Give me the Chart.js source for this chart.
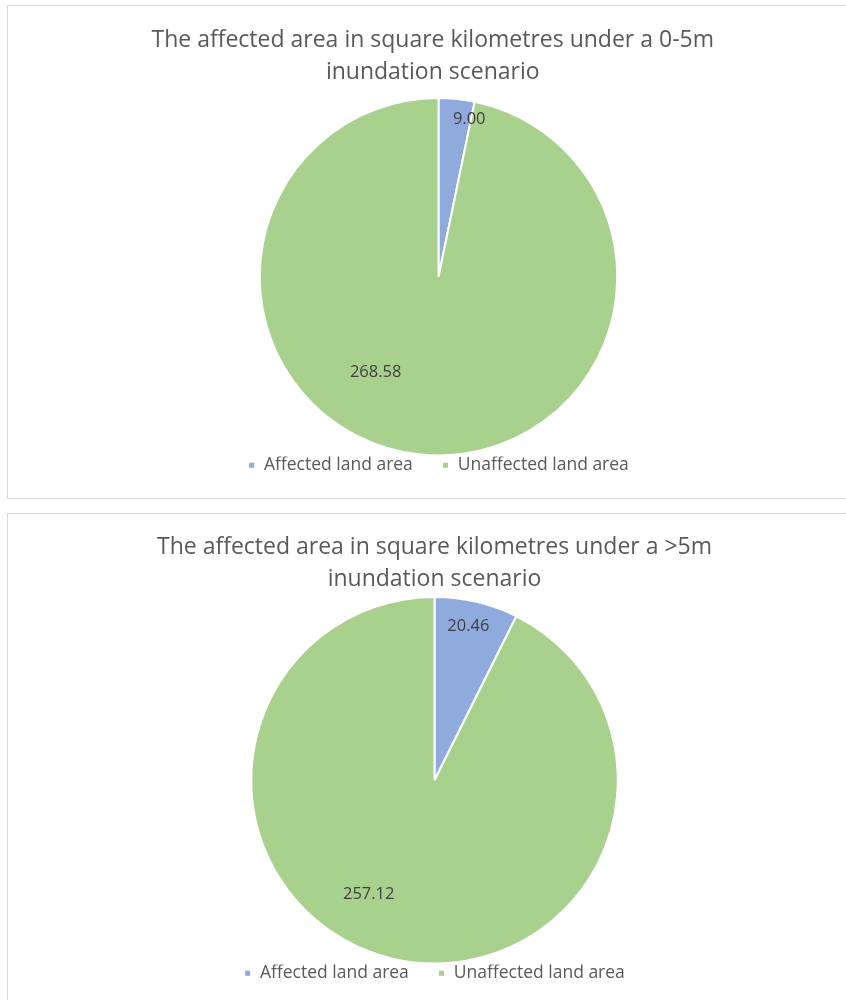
<!DOCTYPE html>
<html>
<head>
<meta charset="utf-8">
<script src="https://cdn.jsdelivr.net/npm/chart.js@4"></script>
<style>
  html, body { margin: 0; padding: 0; background: #fff; overflow: hidden; }
  .box { position: absolute; left: 7px; width: 856px; border: 1px solid #d9d9d9; background: #fff; }
  #box1 { top: 5px; height: 492px; }
  #box2 { top: 513px; height: 495px; }
</style>
</head>
<body>
<div class="box" id="box1"><canvas id="chart1" width="856" height="492"></canvas></div>
<div class="box" id="box2"><canvas id="chart2" width="856" height="495"></canvas></div>
<script>
const categories = ['Affected land area', 'Unaffected land area'];
const shallowValues = [9.00, 268.58];
const deepValues = [20.46, 257.12];
const shallowTitle = ['The affected area in square kilometres under a 0-5m', 'inundation scenario'];
const deepTitle = ['The affected area in square kilometres under a >5m', 'inundation scenario'];

const colours = ['#8faadc', '#a9d18e'];
const textGrey = '#595959';
const fontFamily = "'Open Sans', 'Liberation Sans', sans-serif";

// value labels, placed roughly where Excel's "best fit" put them
const sliceLabels = {
  id: 'sliceLabels',
  afterDatasetsDraw(chart, args, opts) {
    const ctx = chart.ctx;
    const meta = chart.getDatasetMeta(0);
    const data = chart.data.datasets[0].data;
    ctx.save();
    ctx.font = '16.5px ' + fontFamily;
    ctx.fillStyle = '#404040';
    ctx.textAlign = 'center';
    ctx.textBaseline = 'middle';
    meta.data.forEach((arc, i) => {
      const p = opts.places[i];
      const r = arc.outerRadius * p.frac;
      let a = (arc.startAngle + arc.endAngle) / 2;
      if (p.angle !== undefined) a = (p.angle - 90) * Math.PI / 180;
      ctx.fillText(data[i].toFixed(2), arc.x + Math.cos(a) * r, arc.y + Math.sin(a) * r);
    });
    ctx.restore();
  }
};

function makePie(id, title, values, pad, titlePad, places) {
  new Chart(document.getElementById(id), {
    type: 'pie',
    data: {
      labels: categories,
      datasets: [{ data: values, backgroundColor: colours, borderColor: '#fff', borderWidth: 2 }]
    },
    options: {
      responsive: false,
      animation: false,
      layout: { padding: pad },
      plugins: {
        title: {
          display: true,
          text: title,
          color: textGrey,
          font: { family: fontFamily, size: 23, weight: 'normal', lineHeight: 32 / 23 },
          padding: { top: 0, bottom: titlePad }
        },
        legend: {
          position: 'bottom',
          labels: {
            color: textGrey,
            font: { family: fontFamily, size: 17.5, lineHeight: 1.2 },
            boxWidth: 7, boxHeight: 7, padding: 0,
            generateLabels(chart) {
              const items = Chart.overrides.pie.plugins.legend.labels.generateLabels(chart);
              items.forEach((it, i) => { if (i < items.length - 1) it.text += '\u2003\u2002\u2009'; });
              return items;
            }
          }
        },
        tooltip: { enabled: false },
        sliceLabels: { places: places }
      }
    },
    plugins: [sliceLabels]
  });
}

// top chart's title sits a little left of its pie
makePie('chart1', shallowTitle.map(s => s + '\u2002'), shallowValues,
  { top: 18, left: 5, right: 0, bottom: 14 }, 9,
  [{ angle: 11, frac: 0.9 }, { angle: 213.3, frac: 0.64 }]);
makePie('chart2', deepTitle, deepValues,
  { top: 17, left: 0, right: 3, bottom: 17 }, 1,
  [{ angle: 12.4, frac: 0.86 }, { angle: 209.9, frac: 0.72 }]);
</script>
</body>
</html>
